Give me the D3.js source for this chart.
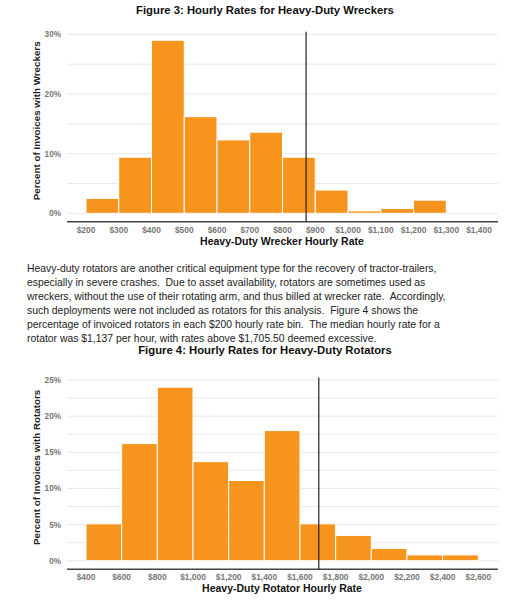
<!DOCTYPE html>
<html>
<head>
<meta charset="utf-8">
<script src="https://cdn.jsdelivr.net/npm/d3@7"></script>
<style>
  body { margin: 0; background: #fff; }
  svg { display: block; font-family: "Liberation Sans", Arial, sans-serif; }
</style>
</head>
<body>
<div id="chart"></div>
<script>
// Figure 3 - wreckers ($100 bins, lower edge of each bin)
const wreckerBins = [200, 300, 400, 500, 600, 700, 800, 900, 1000, 1100, 1200];
const wreckerPct = [2.5, 9.4, 29.0, 16.2, 12.3, 13.6, 9.4, 3.9, 0.4, 0.8, 2.2];
const wreckerTicks = [200, 300, 400, 500, 600, 700, 800, 900, 1000, 1100, 1200, 1300, 1400];
const wreckerYTicks = [0, 10, 20, 30];
const wreckerGrid = [0, 5, 10, 15, 20, 25, 30];
const wreckerCutoff = 872;

// Figure 4 - rotators ($200 bins)
const rotatorBins = [400, 600, 800, 1000, 1200, 1400, 1600, 1800, 2000, 2200, 2400];
const rotatorPct = [5.1, 16.2, 24.0, 13.7, 11.1, 18.0, 5.1, 3.5, 1.7, 0.8, 0.8];
const rotatorTicks = [400, 600, 800, 1000, 1200, 1400, 1600, 1800, 2000, 2200, 2400, 2600];
const rotatorYTicks = [0, 5, 10, 15, 20, 25];
const rotatorGrid = [0, 2.5, 5, 7.5, 10, 12.5, 15, 17.5, 20, 22.5, 25];
const rotatorCutoff = 1705.5;

const paragraph = [
  "Heavy-duty rotators are another critical equipment type for the recovery of tractor-trailers,",
  "especially in severe crashes.  Due to asset availability, rotators are sometimes used as",
  "wreckers, without the use of their rotating arm, and thus billed at wrecker rate.  Accordingly,",
  "such deployments were not included as rotators for this analysis.  Figure 4 shows the",
  "percentage of invoiced rotators in each $200 hourly rate bin.  The median hourly rate for a",
  "rotator was $1,137 per hour, with rates above $1,705.50 deemed excessive."
];

const W = 530, H = 600;
const barColor = "#f7941d";
const fmtMoney = d3.format("$,");

const svg = d3.select("#chart").append("svg")
  .attr("width", W).attr("height", H);
svg.append("rect").attr("width", W).attr("height", H).attr("fill", "#fff");

function histogram(o) {
  const g = svg.append("g");
  const x = d3.scaleLinear().domain(o.xDomain).range([86, o.xEnd]);
  const y = d3.scaleLinear().domain(o.yDomain).range([o.y0, o.yTop]);
  const gridL = 67, gridR = 498;

  g.append("text")
    .attr("x", W / 2).attr("y", o.titleY)
    .attr("text-anchor", "middle")
    .attr("font-size", 11.3).attr("font-weight", "bold").attr("fill", "#111")
    .text(o.title);

  // light gridlines
  g.selectAll("line.grid").data(o.grid).join("line")
    .attr("class", "grid")
    .attr("x1", gridL).attr("x2", gridR)
    .attr("y1", d => y(d)).attr("y2", d => y(d))
    .attr("stroke", "#e8e8e8").attr("stroke-width", 1);

  g.selectAll("text.ytick").data(o.yTicks).join("text")
    .attr("class", "ytick")
    .attr("x", 61).attr("y", d => y(d) + 3)
    .attr("text-anchor", "end")
    .attr("font-size", 8.2).attr("font-weight", "bold").attr("fill", "#777")
    .text(d => d + "%");

  g.selectAll("rect.bar").data(o.bins).join("rect")
    .attr("class", "bar")
    .attr("x", d => x(d))
    .attr("width", d => x(d + o.binWidth) - x(d))
    .attr("y", (d, i) => y(o.values[i]))
    .attr("height", (d, i) => y(0) - y(o.values[i]))
    .attr("fill", barColor)
    .attr("stroke", "#fff").attr("stroke-width", 1);

  // baseline
  g.append("line")
    .attr("x1", gridL).attr("x2", gridR)
    .attr("y1", o.axisY).attr("y2", o.axisY)
    .attr("stroke", "#444").attr("stroke-width", 1.5);

  g.selectAll("text.xtick").data(o.xTicks).join("text")
    .attr("class", "xtick")
    .attr("x", d => x(d)).attr("y", o.axisY + 11)
    .attr("text-anchor", "middle")
    .attr("font-size", 8.4).attr("font-weight", "bold").attr("fill", "#777")
    .text(d => fmtMoney(d));

  // excessive-rate cutoff
  g.append("line")
    .attr("x1", x(o.cutoff)).attr("x2", x(o.cutoff))
    .attr("y1", o.yTop - 2.5).attr("y2", o.axisY)
    .attr("stroke", "#222").attr("stroke-width", 1.2);

  g.append("text")
    .attr("x", 282).attr("y", o.axisY + 23)
    .attr("text-anchor", "middle")
    .attr("font-size", 10.5).attr("font-weight", "bold").attr("fill", "#111")
    .text(o.xTitle);

  g.append("text")
    .attr("transform", "translate(40," + ((o.y0 + o.yTop) / 2 - 3) + ") rotate(-90)")
    .attr("text-anchor", "middle")
    .attr("font-size", 9.8).attr("font-weight", "bold").attr("fill", "#222")
    .text(o.yTitle);
}

histogram({
  title: "Figure 3: Hourly Rates for Heavy-Duty Wreckers",
  titleY: 14,
  xTitle: "Heavy-Duty Wrecker Hourly Rate",
  yTitle: "Percent of Invoices with Wreckers",
  bins: wreckerBins, values: wreckerPct, binWidth: 100,
  xTicks: wreckerTicks, xDomain: [200, 1400], xEnd: 479,
  yTicks: wreckerYTicks, grid: wreckerGrid, yDomain: [0, 30],
  y0: 213.3, yTop: 34.3, axisY: 221.7,
  cutoff: wreckerCutoff
});

svg.append("g").selectAll("text").data(paragraph).join("text")
  .attr("x", 27).attr("y", (d, i) => 272 + i * 14)
  .attr("font-size", 10.4).attr("fill", "#222")
  .attr("xml:space", "preserve").style("white-space", "pre")
  .text(d => d);

histogram({
  title: "Figure 4: Hourly Rates for Heavy-Duty Rotators",
  titleY: 354,
  xTitle: "Heavy-Duty Rotator Hourly Rate",
  yTitle: "Percent of Invoices with Rotators",
  bins: rotatorBins, values: rotatorPct, binWidth: 200,
  xTicks: rotatorTicks, xDomain: [400, 2600], xEnd: 478.3,
  yTicks: rotatorYTicks, grid: rotatorGrid, yDomain: [0, 25],
  y0: 560.7, yTop: 380, axisY: 569.3,
  cutoff: rotatorCutoff
});
</script>
</body>
</html>
